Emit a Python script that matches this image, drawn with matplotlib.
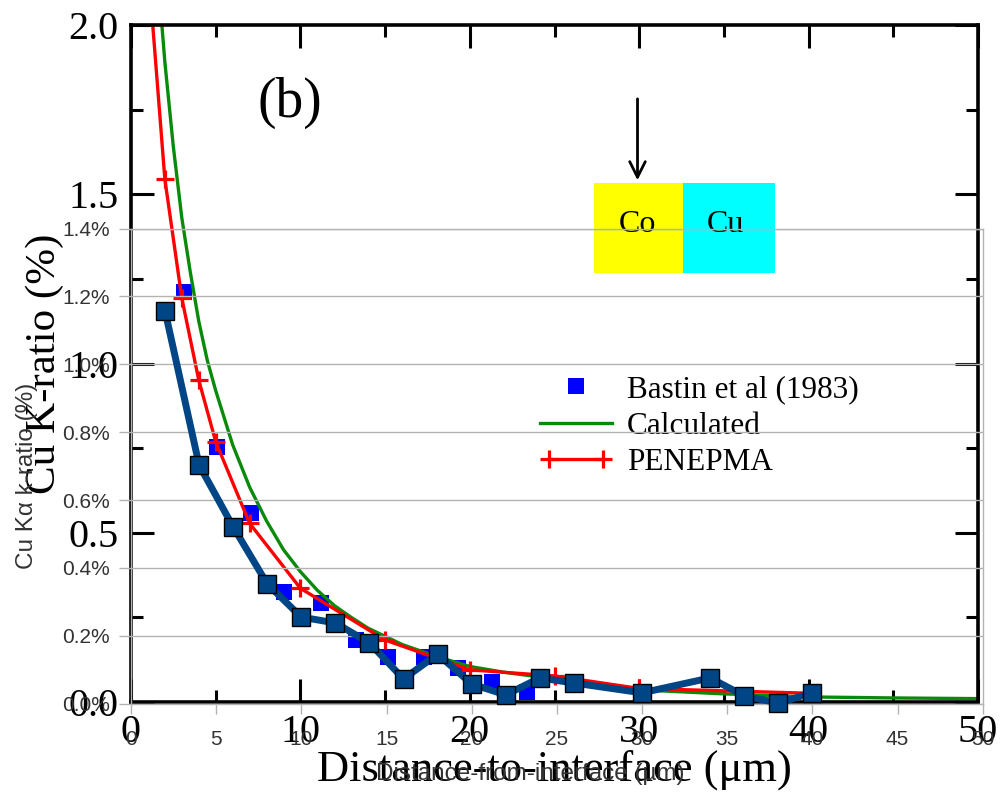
import matplotlib.pyplot as plt
from matplotlib.patches import Rectangle
from matplotlib.legend_handler import HandlerLine2D
from matplotlib.ticker import MultipleLocator

SERIF = 'Liberation Serif'
SANS = 'Liberation Sans'

# ---- background figure (scanned plot): Cu K-ratio vs distance ----
bastin_x = [3.1, 5.1, 7.1, 9.05, 11.2, 13.3, 15.2, 17.3, 19.3, 21.3, 23.4]
bastin_y = [1.212, 0.754, 0.557, 0.326, 0.292, 0.183, 0.134, 0.134, 0.100, 0.060, 0.030]

calc_x = [1.5, 2.0, 2.5, 3.0, 3.5, 4.0, 4.5, 5.0, 6.0, 7.0, 8.0, 9.0, 10.0, 11.0,
          12.0, 13.0, 14.0, 16.0, 18.0, 20.0, 22.0, 25.0, 30.0, 35.0, 40.0, 45.0, 50.0]
calc_y = [2.2, 1.89, 1.64, 1.43, 1.27, 1.125, 1.01, 0.92, 0.76, 0.635, 0.535, 0.45, 0.385,
          0.33, 0.285, 0.25, 0.218, 0.17, 0.135, 0.105, 0.088, 0.068, 0.036, 0.024, 0.015,
          0.012, 0.010]

pen_x = [1.0, 2, 3, 4, 5, 7, 10, 15, 20, 25, 30, 40]
pen_y = [2.18, 1.544, 1.193, 0.951, 0.769, 0.528, 0.336, 0.183, 0.095, 0.077, 0.040, 0.026]

bg_xticks = [0, 10, 20, 30, 40, 50]
bg_yticks = [0.0, 0.5, 1.0, 1.5, 2.0]

# ---- overlay chart: Cu Ka k-ratio (%) ----
dist_um = [2, 4, 6, 8, 10, 12, 14, 16, 18, 20, 22, 24, 26, 30, 34, 36, 38, 40]
kratio_pct = [1.157, 0.703, 0.521, 0.353, 0.255, 0.238, 0.179, 0.073, 0.146, 0.058,
              0.026, 0.076, 0.061, 0.032, 0.076, 0.023, 0.002, 0.032]

ov_xticks = [0, 5, 10, 15, 20, 25, 30, 35, 40, 45, 50]
ov_yticks = [0.0, 0.2, 0.4, 0.6, 0.8, 1.0, 1.2, 1.4]

W, H = 1006, 798


def px_rect(x0, y0, x1, y1):
    return [x0 / W, 1 - y1 / H, (x1 - x0) / W, (y1 - y0) / H]


fig = plt.figure(figsize=(W / 100, H / 100), dpi=100)
fig.patch.set_facecolor('white')

# background axes
ax = fig.add_axes(px_rect(131, 25, 978, 702))
ax.set_xlim(0, 50)
ax.set_ylim(0, 2.0)
ax.set_xticks(bg_xticks, [str(v) for v in bg_xticks], fontfamily=SERIF, fontsize=29)
ax.set_yticks(bg_yticks, [f'{v:.1f}' for v in bg_yticks], fontfamily=SERIF, fontsize=29)
ax.xaxis.set_minor_locator(MultipleLocator(5))
ax.yaxis.set_minor_locator(MultipleLocator(0.25))
ax.tick_params(which='both', direction='in', top=True, right=True, width=2.2, pad=9)
ax.tick_params(which='major', length=16.5)
ax.tick_params(which='minor', length=8.5)
for s in ax.spines.values():
    s.set_linewidth(2.6)

ax.plot(bastin_x, bastin_y, ls='none', marker='s', ms=12, mfc='#0000ff', mec='#0000ff',
        mew=0, label='Bastin et al (1983)')
ax.plot(calc_x, calc_y, color='#0a8a0a', lw=2.4, label='Calculated')
ax.plot(pen_x, pen_y, color='#ff0000', lw=2.4, marker='+', ms=13, mew=2.3, label='PENEPMA')

h, l = ax.get_legend_handles_labels()
ax.legend(h, l, loc='upper left', bbox_to_anchor=((540 - 131) / 847, (702 - 375) / 677),
          frameon=False, borderpad=0, borderaxespad=0, handlelength=2.3,
          handletextpad=0.48, labelspacing=0.24,
          prop={'family': SERIF, 'size': 22.5},
          handler_map={h[0]: HandlerLine2D(numpoints=1), h[2]: HandlerLine2D(numpoints=2)})

ax.set_xlabel('Distance-to-interface (\u03bcm)', fontfamily=SERIF, fontsize=32)
ax.xaxis.set_label_coords(0.5, -0.07)
ax.set_ylabel('Cu K-ratio (%)', fontfamily=SERIF, fontsize=31)
ax.yaxis.set_label_coords(-0.079, 0.5)

ax.text(9.4, 1.77, '(b)', fontfamily=SERIF, fontsize=40, ha='center', va='center')

# Co / Cu inset
ax.add_patch(Rectangle((27.33, 1.267), 5.26, 0.266, facecolor='#ffff00', edgecolor='none'))
ax.add_patch(Rectangle((32.59, 1.267), 5.43, 0.266, facecolor='#00ffff', edgecolor='none'))
ax.text(29.9, 1.41, 'Co', fontfamily=SERIF, fontsize=23, ha='center', va='center')
ax.text(35.1, 1.41, 'Cu', fontfamily=SERIF, fontsize=23, ha='center', va='center')
ax.annotate('', xy=(29.9, 1.533), xytext=(29.9, 1.79),
            arrowprops=dict(arrowstyle='->', lw=2, color='black', mutation_scale=28))

# overlay axes
ax2 = fig.add_axes(px_rect(131, 228.6, 982.7, 703.7))
ax2.patch.set_visible(False)
ax2.set_xlim(0, 50)
ax2.set_ylim(0, 1.4)
ax2.set_xticks(ov_xticks, [str(v) for v in ov_xticks], fontfamily=SANS, fontsize=15,
               color='#333333')
ax2.set_yticks(ov_yticks, [f'{v:.1f}%' for v in ov_yticks], fontfamily=SANS, fontsize=15,
               color='#333333')
ax2.tick_params(which='both', direction='out', color='#b3b3b3', width=1)
ax2.tick_params(axis='x', length=7, pad=12)
ax2.tick_params(axis='y', length=9, pad=6)
ax2.grid(axis='y', color='#b3b3b3', lw=1)
for s in ax2.spines.values():
    s.set_color('#b3b3b3')
    s.set_linewidth(1)

ax2.plot(dist_um, kratio_pct, color='#004586', lw=5, marker='s', ms=13.5,
         mfc='#004586', mec='black', mew=1, clip_on=False, zorder=5)

ax2.set_xlabel('Distance-from-interface (\u00b5m)', fontfamily=SANS, fontsize=17.5,
               color='#333333')
ax2.xaxis.set_label_coords((530 - 131) / 851.7, (703.7 - 763) / 475)
ax2.set_ylabel('Cu K\u03b1 k-ratio (%)', fontfamily=SANS, fontsize=17.5, color='#333333')
ax2.yaxis.set_label_coords((38 - 131) / 851.7, (703.7 - 476) / 475)

fig.savefig('out.png', dpi=100)
